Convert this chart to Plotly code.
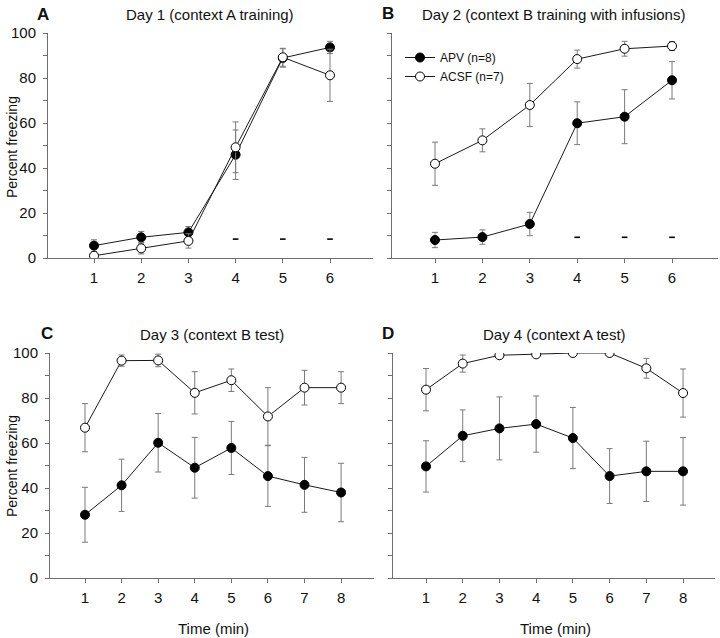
import plotly.graph_objects as go

W, H = 720, 638

# ---------------- data ----------------
time_6 = [1, 2, 3, 4, 5, 6]
time_8 = [1, 2, 3, 4, 5, 6, 7, 8]

# Panel A: Day 1 (context A training)
a_apv = [5.5, 9.2, 11.4, 45.9, 88.9, 93.6]
a_apv_err = [2.6, 2.6, 2.6, 11.0, 4.1, 2.7]
a_acsf = [1.0, 4.3, 7.6, 49.2, 89.2, 81.2]
a_acsf_err = [0.6, 2.5, 3.2, 11.3, 4.0, 11.6]
a_sig_x = [4, 5, 6]
a_sig_y = [8.4, 8.4, 8.4]

# Panel B: Day 2 (context B training with infusions)
b_apv = [8.0, 9.3, 15.1, 59.9, 62.8, 79.0]
b_apv_err = [3.4, 3.2, 5.2, 9.5, 12.0, 8.3]
b_acsf = [41.9, 52.3, 68.0, 88.4, 93.0, 94.2]
b_acsf_err = [9.6, 5.1, 9.6, 4.0, 3.3, 2.0]
b_sig_x = [4, 5, 6]
b_sig_y = [9.2, 9.2, 9.2]

# Panel C: Day 3 (context B test)
c_apv = [28.1, 41.2, 60.1, 49.0, 57.8, 45.3, 41.4, 38.0]
c_apv_err = [12.2, 11.6, 13.0, 13.5, 11.8, 13.5, 12.2, 13.0]
c_acsf = [66.8, 96.6, 96.7, 82.3, 87.9, 71.8, 84.6, 84.6]
c_acsf_err = [10.7, 2.5, 2.8, 9.4, 5.0, 12.8, 7.7, 7.1]

# Panel D: Day 4 (context A test)
d_apv = [49.6, 63.2, 66.5, 68.4, 62.2, 45.3, 47.4, 47.4]
d_apv_err = [11.4, 11.5, 14.0, 12.5, 13.6, 12.2, 13.4, 15.0]
d_acsf = [83.7, 95.3, 99.0, 99.4, 100.0, 100.0, 93.2, 82.2]
d_acsf_err = [9.4, 3.8, 0.6, 0.4, 0.0, 0.0, 4.4, 10.7]

y_ticks = [0, 20, 40, 60, 80, 100]
y_minor = [10, 30, 50, 70, 90]

titles = ["Day 1 (context A training)", "Day 2 (context B training with infusions)",
          "Day 3 (context B test)", "Day 4 (context A test)"]
letters = ["A", "B", "C", "D"]
series_names = ["APV (n=8)", "ACSF (n=7)"]

# ---------------- layout helpers ----------------
FONT = "Liberation Sans, Arial, sans-serif"
AX = "#6e6e6e"
LINE = "#1a1a1a"
ERR = "#7a7a7a"


def px_x(p):
    return p / W


def px_y(p):
    return 1 - p / H


fig = go.Figure()

panels = [
    ("", time_6, a_apv, a_apv_err, a_acsf, a_acsf_err, (a_sig_x, a_sig_y), (48, 373), (0.025, 6.911), (33, 258), True),
    ("2", time_6, b_apv, b_apv_err, b_acsf, b_acsf_err, (b_sig_x, b_sig_y), (392, 718), (0.093, 6.97), (33, 258), False),
    ("3", time_8, c_apv, c_apv_err, c_acsf, c_acsf_err, None, (50, 374), (0.043, 8.9), (353, 578), True),
    ("4", time_8, d_apv, d_apv_err, d_acsf, d_acsf_err, None, (393, 715), (0.101, 8.87), (353, 578), False),
]

for i, (sfx, xs, apv, apv_e, acsf, acsf_e, sig, xd, xr, yd, showy) in enumerate(panels):
    xa, ya = "x" + sfx, "y" + sfx
    show_leg = (i == 1)
    fig.add_trace(go.Scatter(
        x=xs, y=apv, xaxis=xa, yaxis=ya, mode="lines+markers", name=series_names[0],
        showlegend=show_leg,
        line=dict(color=LINE, width=1),
        marker=dict(symbol="circle", size=9, color="black", line=dict(color="black", width=1)),
        error_y=dict(type="data", array=apv_e, visible=True, color=ERR, thickness=1, width=3),
    ))
    fig.add_trace(go.Scatter(
        x=xs, y=acsf, xaxis=xa, yaxis=ya, mode="lines+markers", name=series_names[1],
        showlegend=show_leg,
        line=dict(color=LINE, width=1),
        marker=dict(symbol="circle", size=9, color="white", line=dict(color="black", width=1)),
        error_y=dict(type="data", array=acsf_e, visible=True, color=ERR, thickness=1, width=3),
    ))
    if sig is not None:
        fig.add_trace(go.Scatter(
            x=sig[0], y=sig[1], xaxis=xa, yaxis=ya, mode="markers", showlegend=False,
            marker=dict(symbol="line-ew", size=4, line=dict(color="black", width=1.6)),
            hoverinfo="skip",
        ))

    xkey = "xaxis" + sfx
    ykey = "yaxis" + sfx
    fig.layout[xkey] = dict(
        domain=[px_x(xd[0]), px_x(xd[1])], range=list(xr), anchor=ya,
        tickmode="array", tickvals=xs, ticktext=[str(v) for v in xs],
        showline=True, linecolor=AX, linewidth=1, ticks="outside", ticklen=4,
        tickcolor=AX, tickwidth=1, showgrid=False, zeroline=False,
        tickfont=dict(family=FONT, size=15, color="#111"), ticklabelstandoff=2,
    )
    fig.layout[ykey] = dict(
        domain=[px_y(yd[1]), px_y(yd[0])], range=[0, 100], anchor=xa,
        tickmode="array", tickvals=y_ticks, showticklabels=showy,
        minor=dict(tickmode="array", tickvals=y_minor, ticks="outside",
                   ticklen=4, tickcolor=AX, tickwidth=1),
        showline=True, linecolor=AX, linewidth=1, ticks="outside", ticklen=4,
        tickcolor=AX, tickwidth=1, showgrid=False, zeroline=False,
        tickfont=dict(family=FONT, size=15, color="#111"), ticklabelstandoff=4,
    )

annotations = []
title_pos = [(210, 15), (553, 15), (212, 334), (554, 334)]
letter_pos = [(43, 14), (388, 13), (47, 333), (388, 333)]
for t, (tx, ty), L, (lx, ly) in zip(titles, title_pos, letters, letter_pos):
    annotations.append(dict(text=t, x=px_x(tx), y=px_y(ty), xref="paper", yref="paper",
                            xanchor="center", yanchor="middle", showarrow=False,
                            font=dict(family=FONT, size=15, color="#111")))
    annotations.append(dict(text="<b>" + L + "</b>", x=px_x(lx), y=px_y(ly), xref="paper", yref="paper",
                            xanchor="center", yanchor="middle", showarrow=False,
                            font=dict(family=FONT, size=17, color="#111")))
for ty in (147, 466):
    annotations.append(dict(text="Percent freezing", x=px_x(12), y=px_y(ty), xref="paper", yref="paper",
                            xanchor="center", yanchor="middle", showarrow=False, textangle=-90,
                            font=dict(family=FONT, size=14, color="#111")))
for tx in (213, 555):
    annotations.append(dict(text="Time (min)", x=px_x(tx), y=px_y(628), xref="paper", yref="paper",
                            xanchor="center", yanchor="middle", showarrow=False,
                            font=dict(family=FONT, size=15, color="#111")))

fig.update_layout(
    width=W, height=H, margin=dict(l=0, r=0, t=0, b=0, pad=0, autoexpand=False),
    paper_bgcolor="white", plot_bgcolor="white",
    annotations=annotations,
    legend=dict(x=px_x(400), y=px_y(43), xanchor="left", yanchor="top",
                bgcolor="rgba(0,0,0,0)", font=dict(family=FONT, size=12, color="#111"),
                itemwidth=30, tracegroupgap=0),
    showlegend=True,
)

fig.write_html(
    "out.html",
    config={"displayModeBar": False},
    post_script="document.body.style.margin='0';document.body.style.overflow='hidden';",
)
